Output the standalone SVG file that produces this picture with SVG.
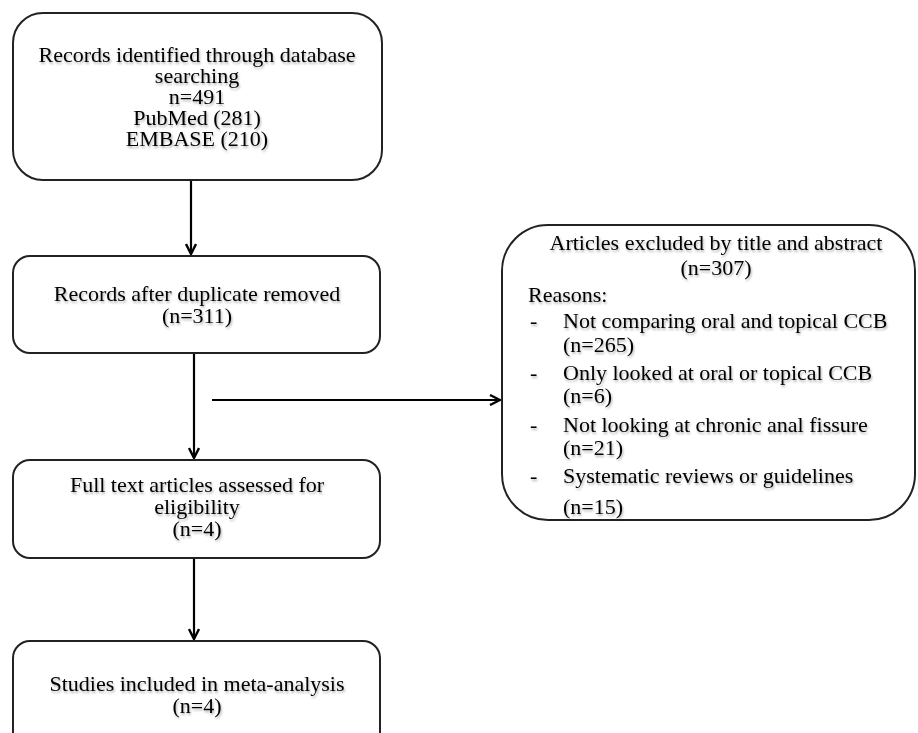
<svg xmlns="http://www.w3.org/2000/svg" width="918" height="733" viewBox="0 0 918 733">
<defs>
<filter id="sh" x="-10%" y="-10%" width="120%" height="130%">
<feDropShadow dx="1" dy="2" stdDeviation="1.2" flood-color="#000" flood-opacity="0.3"/>
</filter>
<marker id="ah" viewBox="0 0 12 12" refX="11" refY="6" markerWidth="12" markerHeight="12" markerUnits="userSpaceOnUse" orient="auto">
<polyline points="1,1 11,6 1,11" fill="none" stroke="#000" stroke-width="2.4"/>
</marker>
</defs>
<style>
.box{fill:#fff;stroke:#222;stroke-width:2}
text{font-family:"Liberation Serif","Times New Roman",serif;font-size:22px;fill:#000;filter:url(#sh)}
.c{text-anchor:middle}
.con{stroke:#000;stroke-width:2.2;fill:none;marker-end:url(#ah)}
</style>
<rect width="918" height="733" fill="#fff"/>
<g id="connectors">
<line class="con" x1="191" y1="180" x2="191" y2="254"/>
<line class="con" x1="194" y1="353" x2="194" y2="458"/>
<line class="con" x1="212" y1="400" x2="500" y2="400"/>
<line class="con" x1="194" y1="558" x2="194" y2="639"/>
</g>
<g id="n1">
<rect class="box" x="13" y="13" width="369" height="167" rx="30"/>
<text class="c" x="197" y="62">Records identified through database</text>
<text class="c" x="197" y="83">searching</text>
<text class="c" x="197" y="104">n=491</text>
<text class="c" x="197" y="125">PubMed (281)</text>
<text class="c" x="197" y="146">EMBASE (210)</text>
</g>
<g id="n2">
<rect class="box" x="13" y="256" width="367" height="97" rx="17"/>
<text class="c" x="197" y="301">Records after duplicate removed</text>
<text class="c" x="197" y="323">(n=311)</text>
</g>
<g id="n3">
<rect class="box" x="13" y="460" width="367" height="98" rx="17"/>
<text class="c" x="197" y="492">Full text articles assessed for</text>
<text class="c" x="197" y="514">eligibility</text>
<text class="c" x="197" y="536">(n=4)</text>
</g>
<g id="n4">
<rect class="box" x="13" y="641" width="367" height="110" rx="17"/>
<text class="c" x="197" y="691">Studies included in meta-analysis</text>
<text class="c" x="197" y="713">(n=4)</text>
</g>
<g id="n5">
<rect class="box" x="502" y="225" width="413" height="295" rx="46"/>
<text class="c" x="716" y="250">Articles excluded by title and abstract</text>
<text class="c" x="716" y="275">(n=307)</text>
<text x="528" y="302">Reasons:</text>
<text x="530" y="328">-</text><text x="563" y="328">Not comparing oral and topical CCB</text>
<text x="563" y="352">(n=265)</text>
<text x="530" y="380">-</text><text x="563" y="380">Only looked at oral or topical CCB</text>
<text x="563" y="403">(n=6)</text>
<text x="530" y="432">-</text><text x="563" y="432">Not looking at chronic anal fissure</text>
<text x="563" y="455">(n=21)</text>
<text x="530" y="483">-</text><text x="563" y="483">Systematic reviews or guidelines</text>
<text x="563" y="514">(n=15)</text>
</g>
</svg>
